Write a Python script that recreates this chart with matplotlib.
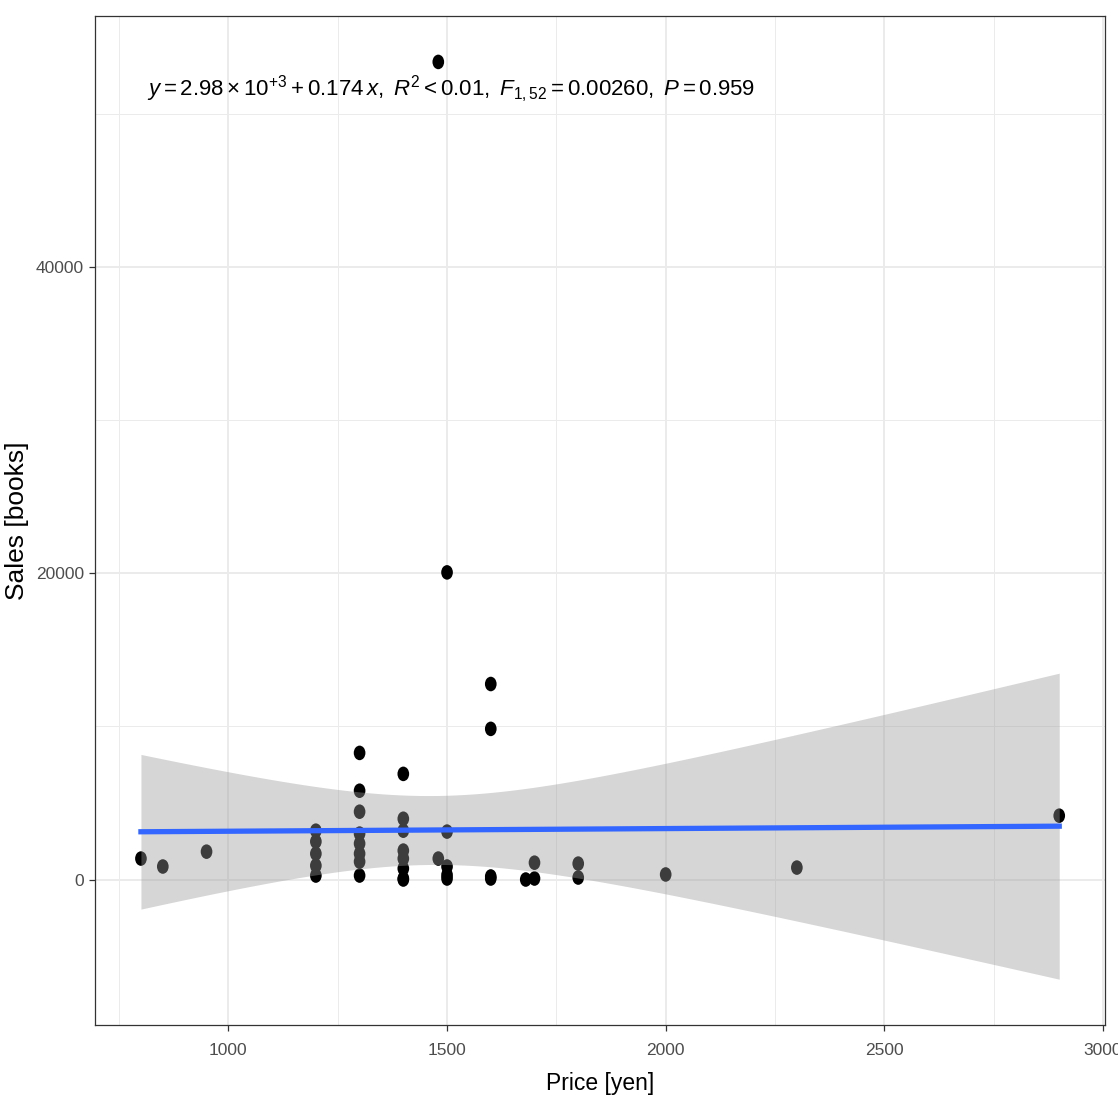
import numpy as np
import matplotlib.pyplot as plt
from matplotlib import font_manager
from matplotlib.markers import MarkerStyle
from matplotlib.transforms import Affine2D
from matplotlib.ticker import MultipleLocator

# 가격 / 판매량 데이터
price = [800, 850, 950,
         1200, 1200, 1200, 1200, 1200,
         1300, 1300, 1300, 1300, 1300, 1300, 1300, 1300,
         1400, 1400, 1400, 1400, 1400, 1400, 1400, 1400,
         1480, 1480,
         1500, 1500, 1500, 1500, 1500,
         1600, 1600, 1600, 1600,
         1680, 1700, 1700, 1800, 1800,
         2000, 2300, 2900]
sales = [1370, 850, 1820,
         3190, 2480, 1690, 910, 260,
         8270, 5800, 4430, 3000, 2350, 1690, 1170, 260,
         6900, 3970, 3190, 1890, 1370, 720, 65, 0,
         53400, 1370,
         20060, 3130, 850, 300, 65,
         12770, 9840, 200, 65,
         0, 1100, 65, 1040, 130,
         330, 780, 4170]

# 회귀 결과 (주석에 표시된 값)
fit_intercept = 2980
fit_slope = 0.174
n_obs = 54
x_mean = 1466
resid_se = 8240
sxx = 5.93e6
t_crit = 2.0066
label = (r"$y = 2.98 \times 10^{+3} + 0.174\,x,\ R^2 < 0.01,\ "
         r"F_{1,52} = 0.00260,\ P = 0.959$")

# 폰트 선택
names = {f.name for f in font_manager.fontManager.ttflist}
narrow = 'Liberation Sans Narrow' if 'Liberation Sans Narrow' in names else 'Liberation Sans'
plt.rcParams['font.family'] = [narrow, 'DejaVu Sans']
plt.rcParams['mathtext.fontset'] = 'custom'
plt.rcParams['mathtext.rm'] = narrow
plt.rcParams['mathtext.it'] = narrow + ':italic'

fig = plt.figure(figsize=(11.18, 11.18), dpi=100)
ax = fig.add_axes([0.085, 0.0832, 0.9035, 0.9025])

# 점
marker = MarkerStyle('o', transform=Affine2D().scale(0.8, 1.0))
ax.scatter(price, sales, s=10.5 ** 2, marker=marker, color='black',
           edgecolors='none', zorder=3)

# 회귀선 + 신뢰구간
xs = np.linspace(min(price), max(price), 100)
ys = fit_intercept + fit_slope * xs
hw = t_crit * resid_se * np.sqrt(1 / n_obs + (xs - x_mean) ** 2 / sxx)
ax.fill_between(xs, ys - hw, ys + hw, color='#999999', alpha=0.4,
                linewidth=0, zorder=4)
ax.plot(xs, ys, color='#3366FF', linewidth=3.8, zorder=5)

# 축 범위
ax.set_xlim(695, 3005)
ax.set_ylim(-9500, 56400)
ax.xaxis.set_major_locator(MultipleLocator(500))
ax.xaxis.set_minor_locator(MultipleLocator(250))
ax.yaxis.set_major_locator(MultipleLocator(20000))
ax.yaxis.set_minor_locator(MultipleLocator(10000))

# theme_bw 스타일
ax.grid(which='major', color='#ebebeb', linewidth=1.4, zorder=0)
ax.grid(which='minor', color='#ebebeb', linewidth=0.7, zorder=0)
ax.set_axisbelow(True)
for sp in ax.spines.values():
    sp.set_color('#333333')
    sp.set_linewidth(0.9)
ax.tick_params(which='major', length=4, width=0.9, color='#333333',
               labelcolor='#4d4d4d', labelsize=12.5)
ax.tick_params(axis='x', which='major', pad=9)
ax.tick_params(axis='y', which='major', pad=4)
ax.tick_params(which='minor', length=0)

ax.set_xlabel('Price [yen]', fontsize=16.5, labelpad=10)
ax.set_ylabel('Sales [books]', fontsize=19, labelpad=5)

ax.text(0.051, 0.927, label, transform=ax.transAxes, fontsize=16,
        ha='left', va='center', zorder=6)

fig.savefig('out.png', dpi=100)
